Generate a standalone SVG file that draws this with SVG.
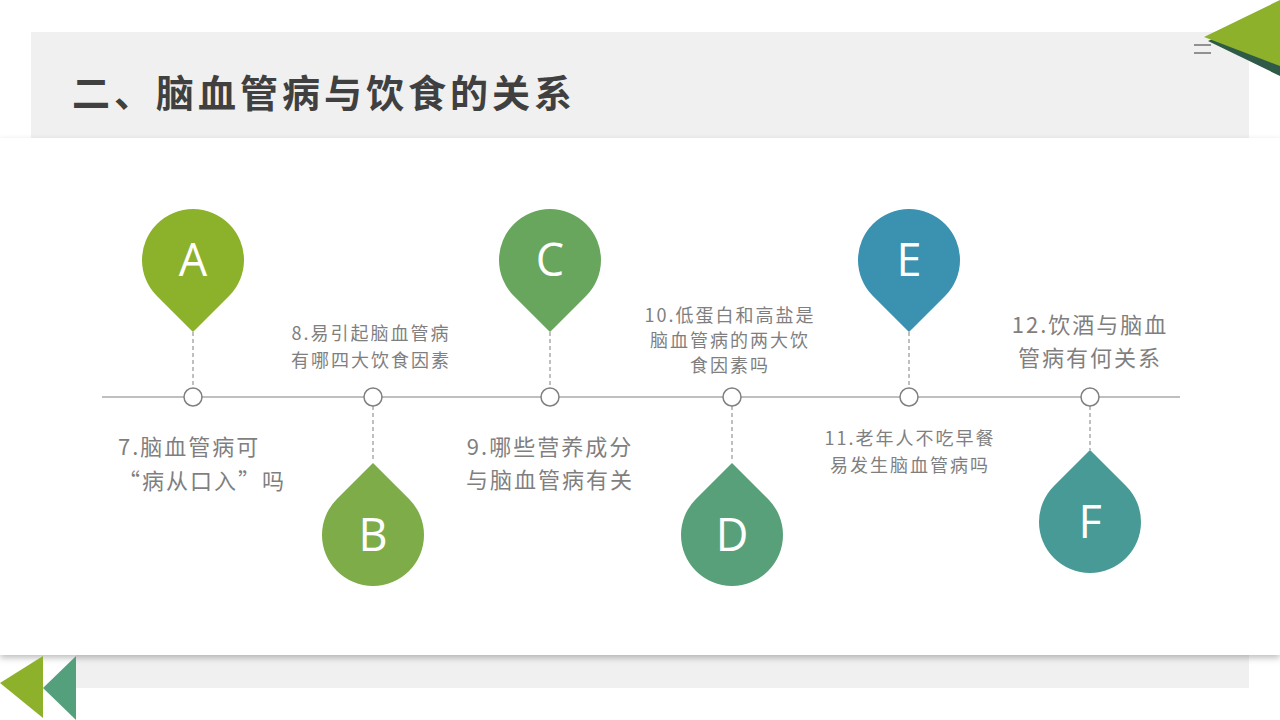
<svg xmlns="http://www.w3.org/2000/svg" width="1280" height="720" viewBox="0 0 1280 720">
  <style>
    .title { font-family: "Noto Sans CJK SC", "Liberation Sans", sans-serif; font-weight: 700; font-size: 38px; fill: #404040; letter-spacing: 4px; }
    .letter { font-family: "Open Sans", "Liberation Sans", sans-serif; font-size: 45px; fill: #ffffff; text-anchor: middle; }
    .lbl { font-family: "Noto Sans CJK SC", "Liberation Sans", sans-serif; fill: #7f7f7f; text-anchor: middle; }
    .big { font-size: 22px; letter-spacing: 2px; }
    .small { font-size: 18px; letter-spacing: 2px; }
    .dash { stroke: #808080; stroke-width: 1; stroke-dasharray: 4 3; fill: none; }
    .dot { fill: #ffffff; stroke: #808080; stroke-width: 1.5; }
  </style>
  <defs>
    <filter id="shadow" x="-5%" y="-5%" width="110%" height="115%">
      <feDropShadow dx="0" dy="3" stdDeviation="3" flood-color="#000" flood-opacity="0.25"/>
    </filter>
    <path id="pinUp" d="M0,-72.1 L-36.06,-36.06 A51,51 0 1 0 36.06,-36.06 Z"/>
    <path id="pinDown" d="M0,72.1 L-36.06,36.06 A51,51 0 1 1 36.06,36.06 Z"/>
  </defs>

  <rect width="1280" height="720" fill="#ffffff"/>

  <g id="background">
    <rect x="31" y="32" width="1218" height="106" fill="#f0f0f0"/>
    <rect x="76" y="655" width="1173" height="33" fill="#f0f0f0"/>
    <rect x="0" y="138" width="1280" height="517" fill="#ffffff" filter="url(#shadow)"/>
    <line x1="1194" y1="45" x2="1211" y2="45" stroke="#333" stroke-width="1"/>
    <line x1="1194" y1="53" x2="1211" y2="53" stroke="#333" stroke-width="1"/>
    <polygon points="1208,41 1280,8 1280,76" fill="#2e5a47"/>
    <polygon points="1204,37 1280,0 1280,66" fill="#8db12a"/>
    <polygon points="76,656 76,720 43,688" fill="#55a07c"/>
    <polygon points="43,656 43,718 0,683" fill="#8db12a"/>
  </g>

  <text class="title" x="72" y="107">二、脑血管病与饮食的关系</text>

  <g id="connectors">
    <line x1="102" y1="397" x2="1180" y2="397" stroke="#808080" stroke-width="1.2"/>
    <line class="dash" x1="193" y1="332" x2="193" y2="388"/>
    <line class="dash" x1="373" y1="406" x2="373" y2="462"/>
    <line class="dash" x1="550" y1="332" x2="550" y2="388"/>
    <line class="dash" x1="732" y1="406" x2="732" y2="462"/>
    <line class="dash" x1="909" y1="332" x2="909" y2="388"/>
    <line class="dash" x1="1090" y1="406" x2="1090" y2="450"/>
  </g>

  <g id="dots">
    <circle class="dot" cx="193" cy="397" r="9"/>
    <circle class="dot" cx="373" cy="397" r="9"/>
    <circle class="dot" cx="550" cy="397" r="9"/>
    <circle class="dot" cx="732" cy="397" r="9"/>
    <circle class="dot" cx="909" cy="397" r="9"/>
    <circle class="dot" cx="1090" cy="397" r="9"/>
  </g>

  <g id="node-A">
    <use href="#pinDown" transform="translate(193,260)" fill="#8cb12a"/>
    <text class="letter" x="193" y="276">A</text>
    <text class="lbl big" style="text-anchor:start" x="118" y="455">7.脑血管病可</text>
    <text class="lbl big" style="text-anchor:start" x="118" y="489">“病从口入”吗</text>
  </g>

  <g id="node-B">
    <use href="#pinUp" transform="translate(373,535)" fill="#7dac48"/>
    <text class="letter" x="373" y="551">B</text>
    <text class="lbl small" x="371" y="340">8.易引起脑血管病</text>
    <text class="lbl small" x="371" y="367">有哪四大饮食因素</text>
  </g>

  <g id="node-C">
    <use href="#pinDown" transform="translate(550,260)" fill="#68a65e"/>
    <text class="letter" x="550" y="276">C</text>
    <text class="lbl big" x="550" y="455">9.哪些营养成分</text>
    <text class="lbl big" x="550" y="488">与脑血管病有关</text>
  </g>

  <g id="node-D">
    <use href="#pinUp" transform="translate(732,535)" fill="#58a07a"/>
    <text class="letter" x="732" y="551">D</text>
    <text class="lbl small" x="730" y="322">10.低蛋白和高盐是</text>
    <text class="lbl small" x="730" y="347">脑血管病的两大饮</text>
    <text class="lbl small" x="730" y="372">食因素吗</text>
  </g>

  <g id="node-E">
    <use href="#pinDown" transform="translate(909,260)" fill="#3a91b0"/>
    <text class="letter" x="909" y="276">E</text>
    <text class="lbl small" x="910" y="445">11.老年人不吃早餐</text>
    <text class="lbl small" x="910" y="472">易发生脑血管病吗</text>
  </g>

  <g id="node-F">
    <use href="#pinUp" transform="translate(1090,522)" fill="#479a96"/>
    <text class="letter" x="1090" y="538">F</text>
    <text class="lbl big" x="1090" y="333">12.饮酒与脑血</text>
    <text class="lbl big" x="1090" y="366">管病有何关系</text>
  </g>
</svg>
